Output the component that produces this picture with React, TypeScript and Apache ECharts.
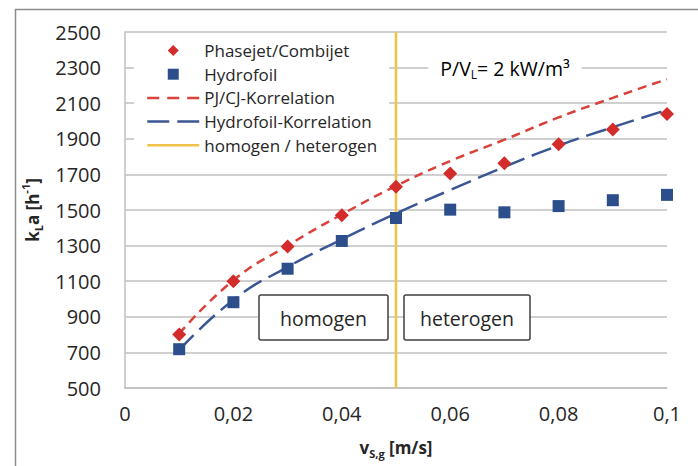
import React, { useEffect, useRef } from "react";
import * as echarts from "echarts";

const xValues = [0.01, 0.02, 0.03, 0.04, 0.05, 0.06, 0.07, 0.08, 0.09, 0.1];
const phasejet = [800, 1100, 1295, 1470, 1630, 1705, 1762, 1870, 1952, 2040];
const hydrofoil = [718, 982, 1170, 1326, 1455, 1502, 1487, 1522, 1555, 1585];
const pjKorrelation = [805, 1105, 1300, 1475, 1635, 1775, 1895, 2020, 2130, 2235];
const hfKorrelation = [712, 995, 1180, 1335, 1480, 1612, 1742, 1862, 1965, 2062];
const grenze = 0.05;
const yTicks = { min: 500, max: 2500, interval: 200 };
const xTicks = { min: 0, max: 0.1, interval: 0.02 };

const FONT = "'Open Sans', 'Noto Sans', sans-serif";
const RED = "#d42b2b";
const BLUE = "#2c4f8c";
const RED_LINE = "#d8423a";
const BLUE_LINE = "#3b5793";
const YELLOW = "#f0c24b";
const TEXT = "#262626";

const pairs = (ys: number[]) => xValues.map((x, i) => [x, ys[i]]);
const hideDot = { color: "rgba(0,0,0,0)", opacity: 0, borderWidth: 0 };

export default function App() {
  const ref = useRef<HTMLDivElement>(null);
  useEffect(() => {
    if (!ref.current) return;
    document.body.style.margin = "0";
    const chart = echarts.init(ref.current, null, { renderer: "svg" });
    chart.setOption({
      animation: false,
      backgroundColor: "#ffffff",
      textStyle: { fontFamily: FONT },
      grid: { left: 125, right: 31, top: 32, bottom: 78 },
      legend: {
        orient: "vertical",
        left: 134,
        top: 35,
        itemWidth: 52,
        itemHeight: 11,
        itemGap: 6.7,
        padding: [7, 12, 7, 12],
        backgroundColor: "#ffffff",
        textStyle: { fontFamily: FONT, fontSize: 17, color: TEXT },
        data: [
          { name: "Phasejet/Combijet", icon: "path://M0,-1L1,0L0,1L-1,0Z" },
          { name: "Hydrofoil", icon: "path://M0,0H1V1H0Z" },
          { name: "PJ/CJ-Korrelation", itemStyle: hideDot, lineStyle: { type: [12, 8], width: 2.5 } },
          { name: "Hydrofoil-Korrelation", itemStyle: hideDot, lineStyle: { type: [22, 8], width: 2.5 } },
          { name: "homogen / heterogen", itemStyle: hideDot, lineStyle: { width: 2.5 } },
        ],
      },
      xAxis: {
        type: "value",
        min: xTicks.min,
        max: xTicks.max,
        interval: xTicks.interval,
        axisLine: { show: true, lineStyle: { color: "#bfbfbf", width: 1.5 } },
        axisTick: { show: false },
        splitLine: { show: false },
        axisLabel: {
          margin: 15,
          fontFamily: FONT,
          fontSize: 20,
          color: TEXT,
          formatter: (v: number) => String(Math.round(v * 100) / 100).replace(".", ","),
        },
        name: "{m|v}{s|S,g}{m| [m/s]}",
        nameLocation: "middle",
        nameGap: 47,
        nameTextStyle: {
          rich: {
            m: { fontFamily: FONT, fontSize: 17, fontWeight: "bold", color: TEXT, lineHeight: 24, verticalAlign: "middle" },
            s: { fontFamily: FONT, fontSize: 11, fontWeight: "bold", color: TEXT, lineHeight: 12, verticalAlign: "bottom" },
          },
        },
      },
      yAxis: {
        type: "value",
        min: yTicks.min,
        max: yTicks.max,
        interval: yTicks.interval,
        axisLine: { show: true, lineStyle: { color: "#bfbfbf", width: 1.5 } },
        axisTick: { show: false },
        splitLine: { show: true, lineStyle: { color: "#c0c0c0", width: 1.5 } },
        axisLabel: { margin: 24, fontFamily: FONT, fontSize: 20, color: TEXT, formatter: (v: number) => String(v) },
        name: "{m|k}{s|L}{m|a [h}{p|-1}{m|]}",
        nameLocation: "middle",
        nameRotate: 90,
        nameGap: 81,
        nameTextStyle: {
          rich: {
            m: { fontFamily: FONT, fontSize: 17, fontWeight: "bold", color: TEXT, lineHeight: 24, verticalAlign: "middle" },
            s: { fontFamily: FONT, fontSize: 11, fontWeight: "bold", color: TEXT, lineHeight: 12, verticalAlign: "bottom" },
            p: { fontFamily: FONT, fontSize: 11, fontWeight: "bold", color: TEXT, lineHeight: 12, verticalAlign: "top" },
          },
        },
      },
      series: [
        {
          name: "PJ/CJ-Korrelation",
          type: "line",
          data: pairs(pjKorrelation),
          smooth: true,
          symbol: "none",
          z: 3,
          itemStyle: { color: RED_LINE },
          lineStyle: { color: RED_LINE, width: 2.5, type: [9, 6] },
        },
        {
          name: "Hydrofoil-Korrelation",
          type: "line",
          data: pairs(hfKorrelation),
          smooth: true,
          symbol: "none",
          z: 3,
          itemStyle: { color: BLUE_LINE },
          lineStyle: { color: BLUE_LINE, width: 2.5, type: [21, 8] },
        },
        {
          name: "Phasejet/Combijet",
          type: "scatter",
          data: pairs(phasejet),
          symbol: "diamond",
          symbolSize: 14,
          z: 5,
          itemStyle: { color: RED, opacity: 1 },
        },
        {
          name: "Hydrofoil",
          type: "scatter",
          data: pairs(hydrofoil),
          symbol: "rect",
          symbolSize: 12,
          z: 5,
          itemStyle: { color: BLUE, opacity: 1 },
        },
        {
          name: "homogen / heterogen",
          type: "line",
          data: [
            [grenze, yTicks.min],
            [grenze, yTicks.max],
          ],
          symbol: "none",
          z: 4,
          itemStyle: { color: YELLOW },
          lineStyle: { color: YELLOW, width: 2.5 },
        },
      ],
      graphic: [
        {
          type: "rect",
          left: 13,
          top: 7,
          shape: { width: 720, height: 480 },
          style: { fill: "none", stroke: "#8c8c8c", lineWidth: 1.5 },
          silent: true,
        },
        {
          type: "text",
          x: 505,
          y: 68,
          z: 10,
          style: {
            text: "{m|P/V}{s|L}{m|= 2 kW/m³}",
            align: "center",
            verticalAlign: "middle",
            backgroundColor: "#ffffff",
            padding: [2, 12, 2, 12],
            rich: {
              m: { fontFamily: FONT, fontSize: 19.5, color: TEXT, lineHeight: 24, verticalAlign: "middle" },
              s: { fontFamily: FONT, fontSize: 12, color: TEXT, lineHeight: 12, verticalAlign: "bottom" },
            },
          },
        },
        {
          type: "rect",
          z: 10,
          shape: { x: 259, y: 295, width: 129, height: 45, r: 2 },
          style: { fill: "#ffffff", stroke: "#404040", lineWidth: 1.5 },
        },
        {
          type: "text",
          z: 11,
          x: 323.5,
          y: 318,
          style: { text: "homogen", fontFamily: FONT, fontSize: 19.5, fill: TEXT, align: "center", verticalAlign: "middle" },
        },
        {
          type: "rect",
          z: 10,
          shape: { x: 404, y: 295, width: 126, height: 45, r: 2 },
          style: { fill: "#ffffff", stroke: "#404040", lineWidth: 1.5 },
        },
        {
          type: "text",
          z: 11,
          x: 467,
          y: 318,
          style: { text: "heterogen", fontFamily: FONT, fontSize: 19.5, fill: TEXT, align: "center", verticalAlign: "middle" },
        },
      ],
    });
    return () => chart.dispose();
  }, []);
  return <div ref={ref} style={{ width: 698, height: 466 }} />;
}
